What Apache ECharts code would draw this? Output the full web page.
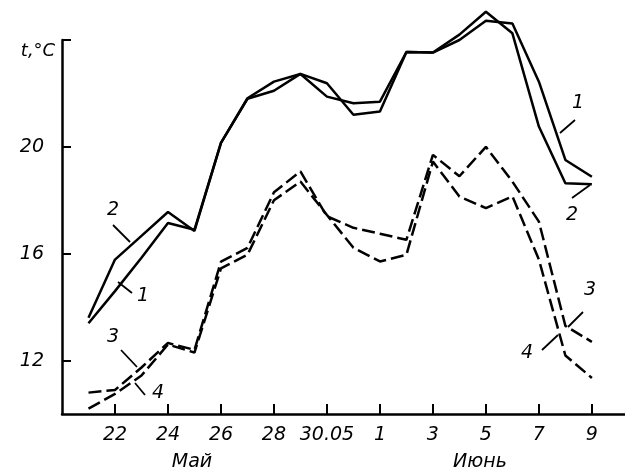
<!DOCTYPE html>
<html>
<head>
<meta charset="utf-8">
<script src="https://cdn.jsdelivr.net/npm/echarts@6/dist/echarts.min.js"></script>
<style>
html,body{margin:0;padding:0;background:#fff;}
#chart{width:625px;height:471px;}
</style>
</head>
<body>
<div id="chart"></div>
<script>
// Day position: May d -> d, June d -> 31 + d
const days = [21,22,23,24,25,26,27,28,29,30,31,32,33,34,35,36,37,38,39,40];
const series1 = [13.4,14.6,15.85,17.15,16.9,20.15,21.8,22.1,22.73,21.88,21.63,21.69,23.55,23.53,24.0,24.72,24.62,22.44,19.51,18.88];
const series2 = [13.6,15.78,16.67,17.56,16.85,20.15,21.82,22.44,22.73,22.38,21.2,21.32,23.55,23.53,24.2,25.06,24.25,20.76,18.64,18.6];
const series3 = [10.8,10.9,11.74,12.66,12.4,15.7,16.22,18.3,19.08,17.4,16.97,16.75,16.52,19.7,18.9,20.0,18.7,17.2,13.3,12.7];
const series4 = [10.2,10.75,11.44,12.6,12.3,15.45,15.96,18.0,18.7,17.45,16.22,15.71,15.96,19.45,18.14,17.71,18.15,15.78,12.19,11.35];
const xTickValues = [22,24,26,28,30,32,34,36,38,40];
const xTickLabels = ['22','24','26','28','30.05','1','3','5','7','9'];
const yTickValues = [12,16,20,24];
const yLabelValues = [12,16,20];

const FONT = "'DejaVu Sans', sans-serif";
const pairs = arr => days.map((d,i)=>[d,arr[i]]);
const solid = {color:'#000', width:2.5, type:'solid'};
const dashed = {color:'#000', width:2.5, type:[13,5]};

const mk = (name, arr, ls) => ({
  name, type:'line', data:pairs(arr), showSymbol:false, symbol:'none', clip:false,
  lineStyle:ls, itemStyle:{color:'#000'}, silent:true, z:3
});

function txt(t,x,y,fs){return {type:'text',style:{text:t,x,y,textAlign:'center',textVerticalAlign:'middle',fontSize:fs||19,fontStyle:'italic',fontFamily:FONT,fill:'#000'}};}
function ln(x1,y1,x2,y2){return {type:'line',shape:{x1,y1,x2,y2},style:{stroke:'#000',lineWidth:1.8}};}

const chart = echarts.init(document.getElementById('chart'));
chart.setOption({
  animation:false,
  backgroundColor:'#fff',
  grid:{left:62, right:0, top:40, bottom:57, containLabel:false},
  xAxis:{
    type:'value', min:20, max:41.25, interval:2,
    axisLine:{show:true, onZero:false, lineStyle:{color:'#000', width:2.5}},
    axisTick:{show:true, inside:true, length:10, customValues:xTickValues, lineStyle:{color:'#000', width:2}},
    axisLabel:{show:true, margin:12, customValues:xTickValues, fontSize:19, fontStyle:'italic', fontFamily:FONT, color:'#000',
      formatter:v=>{const i=xTickValues.indexOf(v);return i>=0?xTickLabels[i]:'';}},
    splitLine:{show:false}
  },
  yAxis:{
    type:'value', min:10, max:24, interval:2,
    axisLine:{show:true, onZero:false, lineStyle:{color:'#000', width:2.5}},
    axisTick:{show:true, inside:true, length:9, customValues:yTickValues, lineStyle:{color:'#000', width:2}},
    axisLabel:{show:true, margin:18, customValues:yLabelValues, fontSize:19, fontStyle:'italic', fontFamily:FONT, color:'#000', padding:[6,0,0,0]},
    splitLine:{show:false}
  },
  series:[mk('1',series1,solid), mk('2',series2,solid), mk('3',series3,dashed), mk('4',series4,dashed)],
  graphic:[
    txt('t,°C',38,51,18),
    txt('Май',192,462),
    txt('Июнь',480,462),
    txt('2',113,210), ln(113,225,130,242),
    txt('1',143,296), ln(118,282,132,293),
    txt('3',113,337), ln(121,350,137,367),
    txt('4',158,393), ln(135,383,145,395),
    txt('1',578,103), ln(560,133,575,120),
    txt('2',572,215), ln(572,198,590,185),
    txt('3',590,290), ln(568,327,583,312),
    txt('4',527,353), ln(542,350,558,335)
  ]
});
</script>
</body>
</html>
